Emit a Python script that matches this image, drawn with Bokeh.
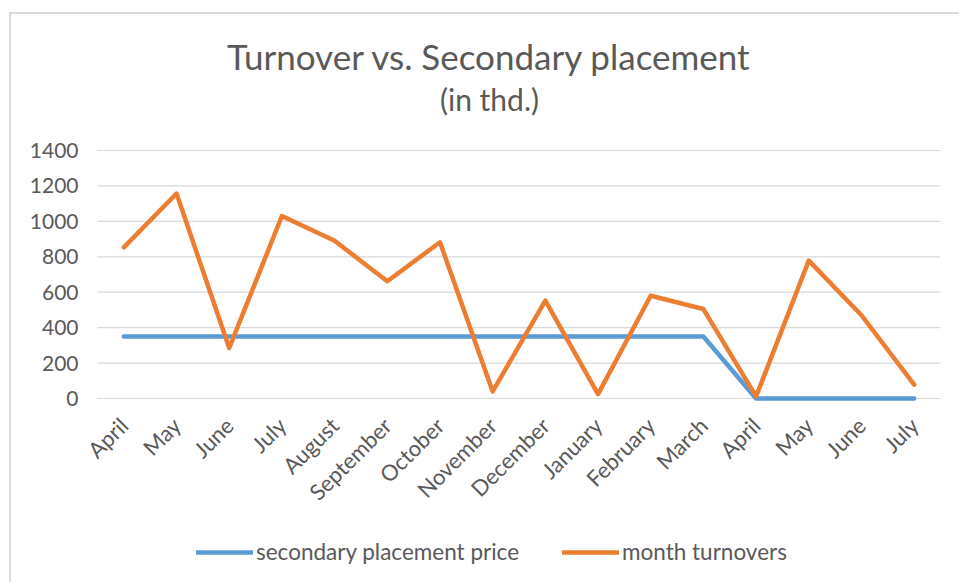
from bokeh.plotting import figure
from bokeh.models import Range1d, FixedTicker, Legend, LegendItem, Label
from bokeh.embed import file_html
from bokeh.resources import INLINE

months = ["April", "May", "June", "July", "August", "September", "October", "November",
          "December", "January", "February", "March", "April", "May", "June", "July"]
placement_price = [350, 350, 350, 350, 350, 350, 350, 350, 350, 350, 350, 350, 0, 0, 0, 0]
turnovers = [853, 1157, 285, 1030, 890, 662, 882, 40, 553, 25, 580, 505, 12, 778, 470, 78]
y_ticks = [0, 200, 400, 600, 800, 1000, 1200, 1400]

FONT = "Lato"
GREY = "#595959"
xs = list(range(len(months)))
x_lo, x_hi = -0.5, len(months) - 0.5

# The frame covers the whole chart area so that titles, legend and rotated
# category labels (drawn inside it) are not clipped.
p = figure(output_backend="svg", toolbar_location=None,
           x_range=Range1d(-0.7088, x_hi), y_range=Range1d(-1038.7, 2167.7),
           frame_width=854, frame_height=568,
           min_border_left=75, min_border_top=0, min_border_right=19, min_border_bottom=0)
p.styles = {"margin-left": "9px", "margin-top": "12px",
            "border-left": "2px solid #D9D9D9", "border-top": "2px solid #D9D9D9"}
p.outline_line_color = None
p.background_fill_color = "white"
p.border_fill_color = "white"

p.xaxis.fixed_location = 0
p.xaxis.ticker = FixedTicker(ticks=xs)
p.xaxis.major_label_overrides = {i: m for i, m in enumerate(months)}
p.xaxis.major_label_orientation = 0.785398
p.xaxis.axis_line_color = None
p.xaxis.major_tick_line_color = None
p.xaxis.minor_tick_line_color = None
p.xaxis.major_label_text_font = FONT
p.xaxis.major_label_text_font_size = "22px"
p.xaxis.major_label_text_color = GREY
p.xaxis.major_label_standoff = 17

p.yaxis.ticker = FixedTicker(ticks=y_ticks)
p.yaxis.axis_line_color = None
p.yaxis.major_tick_line_color = None
p.yaxis.minor_tick_line_color = None
p.yaxis.major_label_text_font = FONT
p.yaxis.major_label_text_font_size = "21px"
p.yaxis.major_label_text_color = GREY
p.yaxis.major_label_standoff = 2

p.xgrid.grid_line_color = None
p.ygrid.grid_line_color = None
p.segment(x0=[x_lo] * len(y_ticks), y0=y_ticks, x1=[x_hi] * len(y_ticks), y1=y_ticks,
          line_color="#D9D9D9", line_width=1.2)

r1 = p.line(xs, placement_price, line_color="#5B9BD5", line_width=4.5, line_join="round", line_cap="round")
r2 = p.line(xs, turnovers, line_color="#ED7D31", line_width=4.5, line_join="round", line_cap="round")

p.add_layout(Label(x=6.94, y=1936, text="Turnover vs. Secondary placement", text_font=FONT,
                   text_font_size="35px", text_color=GREY, text_align="center",
                   text_baseline="alphabetic"))
p.add_layout(Label(x=6.94, y=1693, text="(in thd.)", text_font=FONT,
                   text_font_size="30px", text_color=GREY, text_align="center",
                   text_baseline="alphabetic"))

legend = Legend(items=[LegendItem(label="secondary placement price", renderers=[r1]),
                       LegendItem(label="month turnovers", renderers=[r2])],
                orientation="horizontal", location=(110, 17),
                label_text_font=FONT, label_text_font_size="22.5px", label_text_color=GREY,
                glyph_width=57, glyph_height=20, spacing=43, label_standoff=3,
                border_line_color=None, background_fill_alpha=0, padding=5, margin=0)
p.add_layout(legend, "center")

open("out.html", "w").write(file_html(p, INLINE))
